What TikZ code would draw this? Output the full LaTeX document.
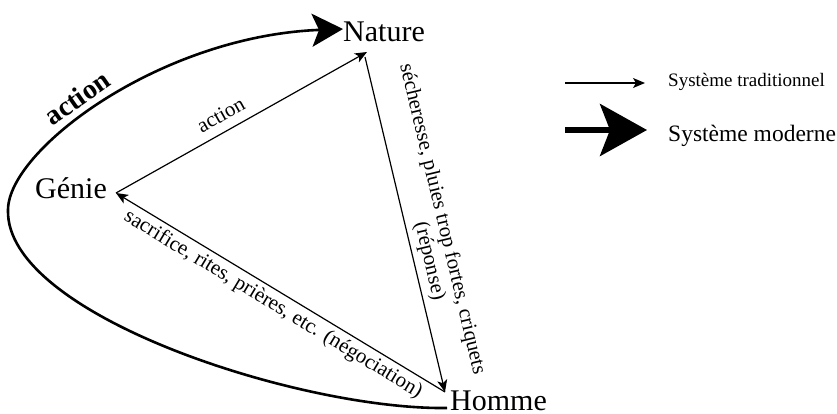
\documentclass[tikz,border=0pt]{standalone}
\usepackage{fontspec}
\setmainfont{Liberation Serif}
\usetikzlibrary{arrows.meta,calc,positioning}

\begin{document}
\begin{tikzpicture}[
    x=1pt, y=-1pt,
    pole/.style={inner sep=0pt, anchor=base west, font=\fontsize{30}{36}\selectfont},
    lien/.style={-{Stealth[length=12pt,width=10pt,inset=3pt]}, line width=1.2pt},
    lbl/.style={font=\fontsize{21}{24}\selectfont, sloped, inner sep=0pt},
    fort/.style={-{Stealth[length=31pt,width=33pt,inset=7pt]}, line width=2.6pt},
    legende/.style={inner sep=0pt, anchor=base west}
]
    \useasboundingbox (0,0) rectangle (837,414);

    \node[pole] (genie) at (35,198) {Génie};
    \node[pole] (nature) at (343,42) {Nature};
    \node[pole] (homme) at (450,410) {Homme};

    % ends of the thin arrows
    \coordinate (gA) at ($(genie.base west)+(81,-5)$);
    \coordinate (nA) at ($(nature.base west)+(24,10)$);
    \coordinate (nB) at ($(nature.base west)+(22,15)$);
    \coordinate (hA) at ($(homme.base west)+(-5,-18)$);

    \draw[lien] (gA) -- node[lbl, pos=0.45, above=9pt] {action} (nA);
    \draw[lien] (nB) -- node[lbl, pos=0.51, above=27pt] {sécheresse, pluies trop fortes, criquets}
                        node[lbl, pos=0.62, above=5pt] {(réponse)} (hA);
    \draw[lien] (hA) -- node[lbl, pos=0.5, below=4pt] {sacrifice, rites, prières, etc. (négociation)} (gA);

    % modern system
    \coordinate (hC) at ($(homme.base west)+(-3,-2)$);
    \coordinate (gauche) at (8,210);
    \coordinate (nC) at ($(nature.base west)+(0,-13)$);
    \draw[fort] (hC) .. controls (300,410) and (5,315) .. (gauche)
                     .. controls (8,150) and (160,36) .. (nC);
    \node[rotate=35, font=\bfseries\fontsize{28}{30}\selectfont] (actionFort) at (77,98) {action};

    % legend
    \coordinate (tradA) at (565,83);
    \coordinate (tradB) at (645,83);
    \draw[lien] (tradA) -- (tradB);
    \node[legende, font=\fontsize{19}{21}\selectfont] (trad) at (668,87) {Système traditionnel};

    \coordinate (modA) at (565,130);
    \coordinate (modB) at (647,130);
    \draw[-{Stealth[length=47pt,width=52pt,inset=10pt]}, line width=5.5pt] (modA) -- (modB);
    \node[legende, font=\fontsize{23.5}{26}\selectfont] (mod) at (668,142) {Système moderne};
\end{tikzpicture}
\end{document}
